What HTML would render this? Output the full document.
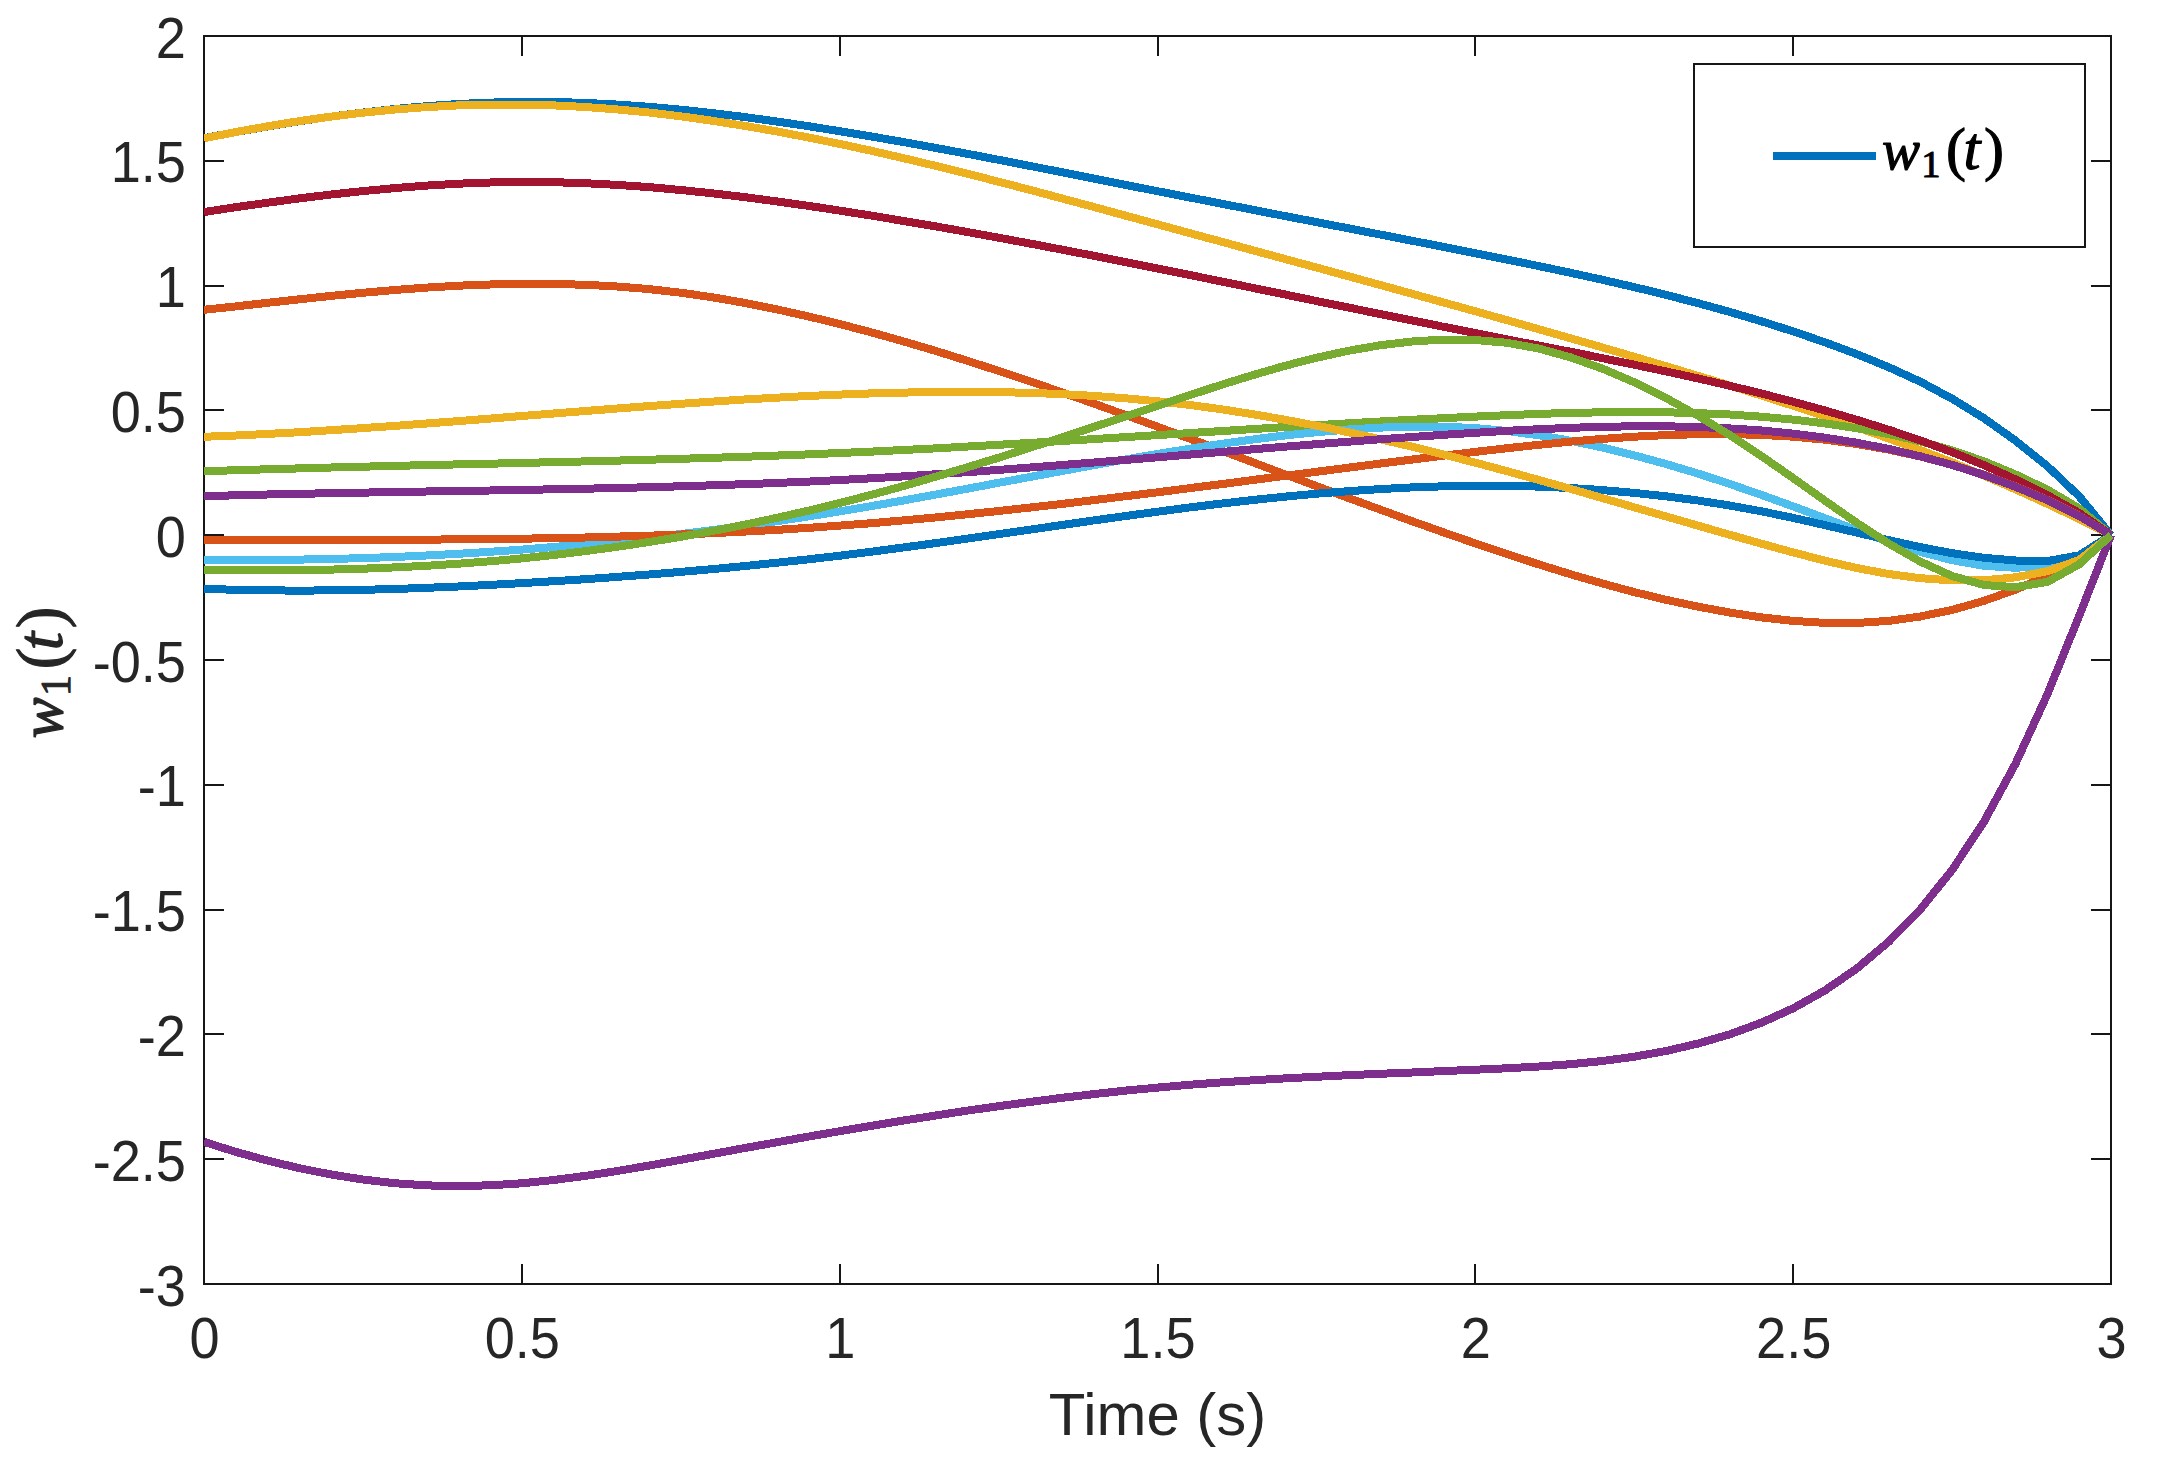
<!DOCTYPE html>
<html><head><meta charset="utf-8"><title>w1(t)</title>
<style>html,body{margin:0;padding:0;background:#fff}svg{display:block}text{font-family:"Liberation Sans",sans-serif;fill:#262626}.m{font-family:"Liberation Serif",serif;fill:#000}</style></head><body>
<svg width="2164" height="1472" viewBox="0 0 2164 1472">
<rect width="2164" height="1472" fill="#fff"/>
<path d="M521.83 36.0 V56.0 M839.67 36.0 V56.0 M1157.50 36.0 V56.0 M1475.33 36.0 V56.0 M1793.17 36.0 V56.0 M2111.0 160.80 H2091.0 M2111.0 285.60 H2091.0 M2111.0 410.40 H2091.0 M2111.0 535.20 H2091.0 M2111.0 660.00 H2091.0 M2111.0 784.80 H2091.0 M2111.0 909.60 H2091.0 M2111.0 1034.40 H2091.0 M2111.0 1159.20 H2091.0 M521.83 1284.0 V1264.0 M839.67 1284.0 V1264.0 M1157.50 1284.0 V1264.0 M1475.33 1284.0 V1264.0 M1793.17 1284.0 V1264.0 M204.0 160.80 H224.0 M204.0 285.60 H224.0 M204.0 410.40 H224.0 M204.0 535.20 H224.0 M204.0 660.00 H224.0 M204.0 784.80 H224.0 M204.0 909.60 H224.0 M204.0 1034.40 H224.0 M204.0 1159.20 H224.0" stroke="#161616" stroke-width="2" fill="none" shape-rendering="crispEdges"/>
<rect x="204.0" y="36.0" width="1907.0" height="1248.0" fill="none" stroke="#161616" stroke-width="2" shape-rendering="crispEdges"/>
<clipPath id="c"><rect x="204.0" y="36.0" width="1913.0" height="1248.0"/></clipPath>
<g clip-path="url(#c)" fill="none" stroke-width="8" stroke-linejoin="round" stroke-linecap="butt" shape-rendering="crispEdges">
<path d="M204.0 138.1 L235.8 132.1 L267.6 126.5 L299.4 121.3 L331.1 116.6 L362.9 112.5 L394.7 109.0 L426.5 106.2 L458.3 104.0 L490.1 102.6 L521.8 101.9 L553.6 102.0 L585.4 102.9 L617.2 104.6 L649.0 106.8 L680.8 109.7 L712.5 113.1 L744.3 117.0 L776.1 121.4 L807.9 126.1 L839.7 131.2 L871.5 136.5 L903.2 142.0 L935.0 147.8 L966.8 153.7 L998.6 159.8 L1030.4 166.0 L1062.2 172.3 L1093.9 178.6 L1125.7 184.9 L1157.5 191.2 L1189.3 197.4 L1221.1 203.6 L1252.9 209.8 L1284.6 216.0 L1316.4 222.1 L1348.2 228.3 L1380.0 234.5 L1411.8 240.7 L1443.6 246.9 L1475.3 253.2 L1507.1 259.6 L1538.9 266.1 L1570.7 272.8 L1602.5 279.8 L1634.2 287.1 L1666.0 294.9 L1697.8 303.1 L1729.6 311.9 L1761.4 321.3 L1793.2 331.4 L1825.0 342.3 L1856.7 354.1 L1888.5 367.1 L1920.3 381.7 L1952.1 398.7 L1983.9 418.2 L2015.6 440.7 L2047.4 466.2 L2079.2 496.3 L2111.0 535.1" stroke="#0072BD"/>
<path d="M204.0 309.8 L235.8 306.4 L267.6 302.8 L299.4 299.3 L331.1 295.9 L362.9 292.8 L394.7 290.0 L426.5 287.6 L458.3 285.7 L490.1 284.5 L521.8 283.8 L553.6 283.9 L585.4 284.8 L617.2 286.5 L649.0 289.1 L680.8 292.7 L712.5 297.3 L744.3 302.8 L776.1 309.2 L807.9 316.3 L839.7 324.0 L871.5 332.4 L903.2 341.3 L935.0 350.7 L966.8 360.6 L998.6 370.9 L1030.4 381.5 L1062.2 392.4 L1093.9 403.6 L1125.7 415.1 L1157.5 426.7 L1189.3 438.5 L1221.1 450.3 L1252.9 462.3 L1284.6 474.2 L1316.4 486.1 L1348.2 497.9 L1380.0 509.5 L1411.8 521.1 L1443.6 532.4 L1475.3 543.4 L1507.1 554.1 L1538.9 564.4 L1570.7 574.3 L1602.5 583.5 L1634.2 592.1 L1666.0 599.8 L1697.8 606.6 L1729.6 612.5 L1761.4 617.4 L1793.2 620.9 L1825.0 622.9 L1856.7 623.0 L1888.5 620.9 L1920.3 616.5 L1952.1 609.9 L1983.9 600.9 L2015.6 589.6 L2047.4 576.0 L2079.2 560.5 L2111.0 535.1" stroke="#D95319"/>
<path d="M204.0 138.3 L235.8 132.0 L267.6 126.3 L299.4 121.1 L331.1 116.6 L362.9 112.7 L394.7 109.5 L426.5 107.1 L458.3 105.4 L490.1 104.6 L521.8 104.6 L553.6 105.4 L585.4 107.0 L617.2 109.4 L649.0 112.5 L680.8 116.3 L712.5 120.8 L744.3 125.8 L776.1 131.3 L807.9 137.4 L839.7 143.9 L871.5 150.8 L903.2 158.1 L935.0 165.7 L966.8 173.6 L998.6 181.7 L1030.4 190.0 L1062.2 198.5 L1093.9 207.0 L1125.7 215.7 L1157.5 224.3 L1189.3 233.0 L1221.1 241.6 L1252.9 250.3 L1284.6 258.9 L1316.4 267.5 L1348.2 276.2 L1380.0 284.9 L1411.8 293.7 L1443.6 302.5 L1475.3 311.3 L1507.1 320.2 L1538.9 329.3 L1570.7 338.3 L1602.5 347.5 L1634.2 356.8 L1666.0 366.2 L1697.8 375.8 L1729.6 385.5 L1761.4 395.5 L1793.2 405.8 L1825.0 416.4 L1856.7 427.2 L1888.5 438.4 L1920.3 450.1 L1952.1 462.4 L1983.9 475.6 L2015.6 489.4 L2047.4 503.9 L2079.2 518.9 L2111.0 535.1" stroke="#EDB120"/>
<path d="M204.0 1141.9 L235.8 1151.9 L267.6 1160.6 L299.4 1168.2 L331.1 1174.5 L362.9 1179.5 L394.7 1183.2 L426.5 1185.4 L458.3 1186.1 L490.1 1185.3 L521.8 1183.3 L553.6 1180.0 L585.4 1175.9 L617.2 1171.0 L649.0 1165.6 L680.8 1159.8 L712.5 1154.0 L744.3 1148.1 L776.1 1142.4 L807.9 1136.7 L839.7 1131.2 L871.5 1125.8 L903.2 1120.6 L935.0 1115.6 L966.8 1110.7 L998.6 1106.2 L1030.4 1101.9 L1062.2 1097.8 L1093.9 1094.1 L1125.7 1090.6 L1157.5 1087.6 L1189.3 1084.8 L1221.1 1082.4 L1252.9 1080.3 L1284.6 1078.4 L1316.4 1076.8 L1348.2 1075.2 L1380.0 1073.8 L1411.8 1072.5 L1443.6 1071.1 L1475.3 1069.7 L1507.1 1068.3 L1538.9 1066.5 L1570.7 1064.2 L1602.5 1061.0 L1634.2 1056.7 L1666.0 1051.0 L1697.8 1043.6 L1729.6 1034.4 L1761.4 1022.7 L1793.2 1008.3 L1825.0 990.4 L1856.7 968.6 L1888.5 941.9 L1920.3 909.5 L1952.1 870.0 L1983.9 821.8 L2015.6 763.5 L2047.4 694.3 L2079.2 615.8 L2111.0 535.1" stroke="#7E2F8E"/>
<path d="M204.0 471.3 L235.8 470.2 L267.6 469.3 L299.4 468.4 L331.1 467.5 L362.9 466.7 L394.7 465.9 L426.5 465.1 L458.3 464.4 L490.1 463.7 L521.8 462.9 L553.6 462.2 L585.4 461.4 L617.2 460.6 L649.0 459.7 L680.8 458.8 L712.5 457.8 L744.3 456.8 L776.1 455.6 L807.9 454.4 L839.7 453.0 L871.5 451.6 L903.2 450.0 L935.0 448.4 L966.8 446.6 L998.6 444.8 L1030.4 442.9 L1062.2 441.0 L1093.9 439.1 L1125.7 437.1 L1157.5 435.1 L1189.3 433.1 L1221.1 431.1 L1252.9 429.1 L1284.6 427.1 L1316.4 425.2 L1348.2 423.3 L1380.0 421.5 L1411.8 419.8 L1443.6 418.2 L1475.3 416.6 L1507.1 415.2 L1538.9 413.9 L1570.7 412.9 L1602.5 412.3 L1634.2 412.0 L1666.0 412.3 L1697.8 413.1 L1729.6 414.5 L1761.4 416.7 L1793.2 419.6 L1825.0 423.4 L1856.7 428.2 L1888.5 434.0 L1920.3 441.3 L1952.1 450.3 L1983.9 461.3 L2015.6 474.5 L2047.4 489.6 L2079.2 508.4 L2111.0 535.1" stroke="#77AC30"/>
<path d="M204.0 559.8 L235.8 560.0 L267.6 559.9 L299.4 559.6 L331.1 559.0 L362.9 558.1 L394.7 557.0 L426.5 555.5 L458.3 553.8 L490.1 551.8 L521.8 549.6 L553.6 547.0 L585.4 544.2 L617.2 541.1 L649.0 537.7 L680.8 534.0 L712.5 530.1 L744.3 525.8 L776.1 521.3 L807.9 516.5 L839.7 511.4 L871.5 506.1 L903.2 500.5 L935.0 494.7 L966.8 488.8 L998.6 482.8 L1030.4 476.9 L1062.2 471.0 L1093.9 465.1 L1125.7 459.4 L1157.5 454.0 L1189.3 448.8 L1221.1 443.9 L1252.9 439.5 L1284.6 435.5 L1316.4 432.2 L1348.2 429.5 L1380.0 427.6 L1411.8 426.6 L1443.6 426.7 L1475.3 428.1 L1507.1 431.0 L1538.9 435.3 L1570.7 440.8 L1602.5 447.5 L1634.2 455.3 L1666.0 464.0 L1697.8 473.5 L1729.6 483.9 L1761.4 494.9 L1793.2 506.4 L1825.0 518.3 L1856.7 530.2 L1888.5 541.6 L1920.3 551.8 L1952.1 560.2 L1983.9 565.8 L2015.6 567.8 L2047.4 565.6 L2079.2 555.5 L2111.0 535.1" stroke="#4DBEEE"/>
<path d="M204.0 212.0 L235.8 207.2 L267.6 202.7 L299.4 198.4 L331.1 194.5 L362.9 191.1 L394.7 188.1 L426.5 185.6 L458.3 183.7 L490.1 182.5 L521.8 182.0 L553.6 182.2 L585.4 183.2 L617.2 184.9 L649.0 187.1 L680.8 190.0 L712.5 193.3 L744.3 197.1 L776.1 201.3 L807.9 205.8 L839.7 210.6 L871.5 215.6 L903.2 220.9 L935.0 226.3 L966.8 231.9 L998.6 237.7 L1030.4 243.6 L1062.2 249.7 L1093.9 255.8 L1125.7 262.1 L1157.5 268.5 L1189.3 274.9 L1221.1 281.4 L1252.9 287.9 L1284.6 294.4 L1316.4 301.0 L1348.2 307.5 L1380.0 314.0 L1411.8 320.4 L1443.6 326.8 L1475.3 333.1 L1507.1 339.4 L1538.9 345.6 L1570.7 351.8 L1602.5 358.2 L1634.2 364.7 L1666.0 371.4 L1697.8 378.4 L1729.6 385.7 L1761.4 393.5 L1793.2 401.8 L1825.0 410.5 L1856.7 419.8 L1888.5 429.7 L1920.3 440.4 L1952.1 452.1 L1983.9 465.1 L2015.6 479.4 L2047.4 495.2 L2079.2 513.0 L2111.0 535.1" stroke="#A2142F"/>
<path d="M204.0 588.8 L235.8 589.8 L267.6 590.4 L299.4 590.6 L331.1 590.4 L362.9 589.8 L394.7 589.0 L426.5 587.8 L458.3 586.5 L490.1 584.9 L521.8 583.1 L553.6 581.2 L585.4 579.2 L617.2 576.9 L649.0 574.5 L680.8 571.9 L712.5 569.1 L744.3 566.1 L776.1 562.8 L807.9 559.4 L839.7 555.7 L871.5 551.7 L903.2 547.5 L935.0 543.2 L966.8 538.7 L998.6 534.1 L1030.4 529.6 L1062.2 525.0 L1093.9 520.4 L1125.7 516.0 L1157.5 511.7 L1189.3 507.5 L1221.1 503.6 L1252.9 500.0 L1284.6 496.7 L1316.4 493.7 L1348.2 491.2 L1380.0 489.1 L1411.8 487.4 L1443.6 486.3 L1475.3 485.8 L1507.1 485.9 L1538.9 486.6 L1570.7 488.0 L1602.5 490.1 L1634.2 492.9 L1666.0 496.3 L1697.8 500.5 L1729.6 505.5 L1761.4 511.3 L1793.2 517.9 L1825.0 525.1 L1856.7 532.6 L1888.5 540.1 L1920.3 547.1 L1952.1 553.2 L1983.9 557.8 L2015.6 560.5 L2047.4 561.1 L2079.2 555.3 L2111.0 535.1" stroke="#0072BD"/>
<path d="M204.0 539.7 L235.8 539.8 L267.6 539.8 L299.4 539.9 L331.1 539.9 L362.9 539.8 L394.7 539.8 L426.5 539.6 L458.3 539.4 L490.1 539.1 L521.8 538.7 L553.6 538.1 L585.4 537.5 L617.2 536.6 L649.0 535.7 L680.8 534.5 L712.5 533.2 L744.3 531.6 L776.1 529.9 L807.9 527.9 L839.7 525.6 L871.5 523.2 L903.2 520.4 L935.0 517.5 L966.8 514.3 L998.6 511.0 L1030.4 507.5 L1062.2 503.9 L1093.9 500.1 L1125.7 496.2 L1157.5 492.3 L1189.3 488.2 L1221.1 484.2 L1252.9 480.0 L1284.6 475.9 L1316.4 471.8 L1348.2 467.7 L1380.0 463.6 L1411.8 459.6 L1443.6 455.7 L1475.3 451.9 L1507.1 448.2 L1538.9 444.8 L1570.7 441.6 L1602.5 438.9 L1634.2 436.7 L1666.0 435.1 L1697.8 434.2 L1729.6 434.1 L1761.4 434.9 L1793.2 436.7 L1825.0 439.7 L1856.7 444.0 L1888.5 449.6 L1920.3 456.5 L1952.1 464.8 L1983.9 474.7 L2015.6 486.4 L2047.4 499.8 L2079.2 515.8 L2111.0 535.1" stroke="#D95319"/>
<path d="M204.0 436.8 L235.8 435.5 L267.6 433.9 L299.4 432.2 L331.1 430.2 L362.9 428.1 L394.7 425.9 L426.5 423.5 L458.3 421.1 L490.1 418.6 L521.8 416.0 L553.6 413.5 L585.4 411.0 L617.2 408.5 L649.0 406.1 L680.8 403.8 L712.5 401.6 L744.3 399.5 L776.1 397.7 L807.9 396.0 L839.7 394.6 L871.5 393.4 L903.2 392.6 L935.0 392.0 L966.8 391.9 L998.6 392.1 L1030.4 392.9 L1062.2 394.1 L1093.9 395.9 L1125.7 398.3 L1157.5 401.3 L1189.3 404.9 L1221.1 409.2 L1252.9 414.2 L1284.6 419.7 L1316.4 425.7 L1348.2 432.2 L1380.0 439.2 L1411.8 446.6 L1443.6 454.5 L1475.3 462.7 L1507.1 471.2 L1538.9 480.0 L1570.7 488.9 L1602.5 498.1 L1634.2 507.3 L1666.0 516.4 L1697.8 525.6 L1729.6 534.7 L1761.4 543.7 L1793.2 552.4 L1825.0 560.7 L1856.7 568.0 L1888.5 574.0 L1920.3 578.2 L1952.1 580.4 L1983.9 580.3 L2015.6 577.3 L2047.4 571.2 L2079.2 560.0 L2111.0 535.1" stroke="#EDB120"/>
<path d="M204.0 496.2 L235.8 495.3 L267.6 494.5 L299.4 493.8 L331.1 493.2 L362.9 492.6 L394.7 492.1 L426.5 491.5 L458.3 491.0 L490.1 490.5 L521.8 489.9 L553.6 489.3 L585.4 488.7 L617.2 488.0 L649.0 487.2 L680.8 486.3 L712.5 485.3 L744.3 484.2 L776.1 483.0 L807.9 481.6 L839.7 480.0 L871.5 478.3 L903.2 476.4 L935.0 474.3 L966.8 472.2 L998.6 469.9 L1030.4 467.5 L1062.2 465.0 L1093.9 462.5 L1125.7 459.9 L1157.5 457.3 L1189.3 454.6 L1221.1 452.0 L1252.9 449.3 L1284.6 446.7 L1316.4 444.2 L1348.2 441.7 L1380.0 439.3 L1411.8 437.0 L1443.6 434.8 L1475.3 432.8 L1507.1 430.8 L1538.9 429.2 L1570.7 427.8 L1602.5 426.8 L1634.2 426.3 L1666.0 426.3 L1697.8 427.0 L1729.6 428.4 L1761.4 430.5 L1793.2 433.6 L1825.0 437.7 L1856.7 442.7 L1888.5 448.9 L1920.3 456.3 L1952.1 464.9 L1983.9 475.1 L2015.6 486.8 L2047.4 500.2 L2079.2 516.0 L2111.0 535.1" stroke="#7E2F8E"/>
<path d="M204.0 569.9 L235.8 570.2 L267.6 570.3 L299.4 570.1 L331.1 569.6 L362.9 568.7 L394.7 567.4 L426.5 565.8 L458.3 563.7 L490.1 561.3 L521.8 558.4 L553.6 555.0 L585.4 551.1 L617.2 546.8 L649.0 542.0 L680.8 536.8 L712.5 531.0 L744.3 524.8 L776.1 518.0 L807.9 510.8 L839.7 503.0 L871.5 494.8 L903.2 486.1 L935.0 476.9 L966.8 467.4 L998.6 457.7 L1030.4 447.6 L1062.2 437.3 L1093.9 426.9 L1125.7 416.4 L1157.5 405.8 L1189.3 395.3 L1221.1 384.9 L1252.9 375.1 L1284.6 365.9 L1316.4 357.8 L1348.2 350.8 L1380.0 345.3 L1411.8 341.5 L1443.6 339.6 L1475.3 340.0 L1507.1 342.8 L1538.9 348.6 L1570.7 357.4 L1602.5 368.7 L1634.2 382.3 L1666.0 398.0 L1697.8 415.6 L1729.6 435.0 L1761.4 456.0 L1793.2 478.1 L1825.0 500.7 L1856.7 522.8 L1888.5 543.4 L1920.3 561.6 L1952.1 576.0 L1983.9 585.0 L2015.6 587.2 L2047.4 581.9 L2079.2 564.3 L2111.0 535.1" stroke="#77AC30"/>
</g>
<text transform="translate(204.5 1358.0) scale(1 1.045)" font-size="54.17" text-anchor="middle">0</text>
<text transform="translate(522.3 1358.0) scale(1 1.045)" font-size="54.17" text-anchor="middle">0.5</text>
<text transform="translate(840.2 1358.0) scale(1 1.045)" font-size="54.17" text-anchor="middle">1</text>
<text transform="translate(1158.0 1358.0) scale(1 1.045)" font-size="54.17" text-anchor="middle">1.5</text>
<text transform="translate(1475.8 1358.0) scale(1 1.045)" font-size="54.17" text-anchor="middle">2</text>
<text transform="translate(1793.7 1358.0) scale(1 1.045)" font-size="54.17" text-anchor="middle">2.5</text>
<text transform="translate(2111.5 1358.0) scale(1 1.045)" font-size="54.17" text-anchor="middle">3</text>
<text transform="translate(186.0 57.6) scale(1 1.045)" font-size="54.17" text-anchor="end">2</text>
<text transform="translate(186.0 182.4) scale(1 1.045)" font-size="54.17" text-anchor="end">1.5</text>
<text transform="translate(186.0 307.2) scale(1 1.045)" font-size="54.17" text-anchor="end">1</text>
<text transform="translate(186.0 432.0) scale(1 1.045)" font-size="54.17" text-anchor="end">0.5</text>
<text transform="translate(186.0 556.8) scale(1 1.045)" font-size="54.17" text-anchor="end">0</text>
<text transform="translate(186.0 681.6) scale(1 1.045)" font-size="54.17" text-anchor="end">-0.5</text>
<text transform="translate(186.0 806.4) scale(1 1.045)" font-size="54.17" text-anchor="end">-1</text>
<text transform="translate(186.0 931.2) scale(1 1.045)" font-size="54.17" text-anchor="end">-1.5</text>
<text transform="translate(186.0 1056.0) scale(1 1.045)" font-size="54.17" text-anchor="end">-2</text>
<text transform="translate(186.0 1180.8) scale(1 1.045)" font-size="54.17" text-anchor="end">-2.5</text>
<text transform="translate(186.0 1305.6) scale(1 1.045)" font-size="54.17" text-anchor="end">-3</text>
<text x="1157.5" y="1434.8" font-size="59.9" text-anchor="middle">Time (s)</text>
<rect x="1694" y="64" width="391" height="183" fill="#fff" stroke="#161616" stroke-width="2" shape-rendering="crispEdges"/>
<path d="M1773 155.5 H1876" stroke="#0072BD" stroke-width="8" fill="none" shape-rendering="crispEdges"/>
<text class="m" style="fill:#000" stroke="#000" stroke-width="1.10" stroke-linejoin="round" x="1882.0" y="169.2" font-size="57.0" font-style="italic">w</text><text class="m" style="fill:#000" stroke="#000" stroke-width="1.10" stroke-linejoin="round" x="1921.3" y="176.8" font-size="38.5">1</text><text class="m" style="fill:#000" stroke="#000" stroke-width="1.10" stroke-linejoin="round" x="1946.0" y="169.2" font-size="60.0">(</text><text class="m" style="fill:#000" stroke="#000" stroke-width="1.10" stroke-linejoin="round" x="1963.5" y="169.2" font-size="61.0" font-style="italic">t</text><text class="m" style="fill:#000" stroke="#000" stroke-width="1.10" stroke-linejoin="round" x="1984.0" y="169.2" font-size="60.0">)</text>
<g transform="translate(62 736.2) rotate(-90)"><text class="m" style="fill:#262626" stroke="#262626" stroke-width="1.19" stroke-linejoin="round" x="-2.2" y="0.0" font-size="61.6" font-style="italic">w</text><text class="m" style="fill:#262626" stroke="#262626" stroke-width="1.19" stroke-linejoin="round" x="40.3" y="8.2" font-size="41.6">1</text><text class="m" style="fill:#262626" stroke="#262626" stroke-width="1.19" stroke-linejoin="round" x="67.0" y="0.0" font-size="64.8">(</text><text class="m" style="fill:#262626" stroke="#262626" stroke-width="1.19" stroke-linejoin="round" x="85.9" y="0.0" font-size="65.9" font-style="italic">t</text><text class="m" style="fill:#262626" stroke="#262626" stroke-width="1.19" stroke-linejoin="round" x="108.0" y="0.0" font-size="64.8">)</text></g>
</svg></body></html>
